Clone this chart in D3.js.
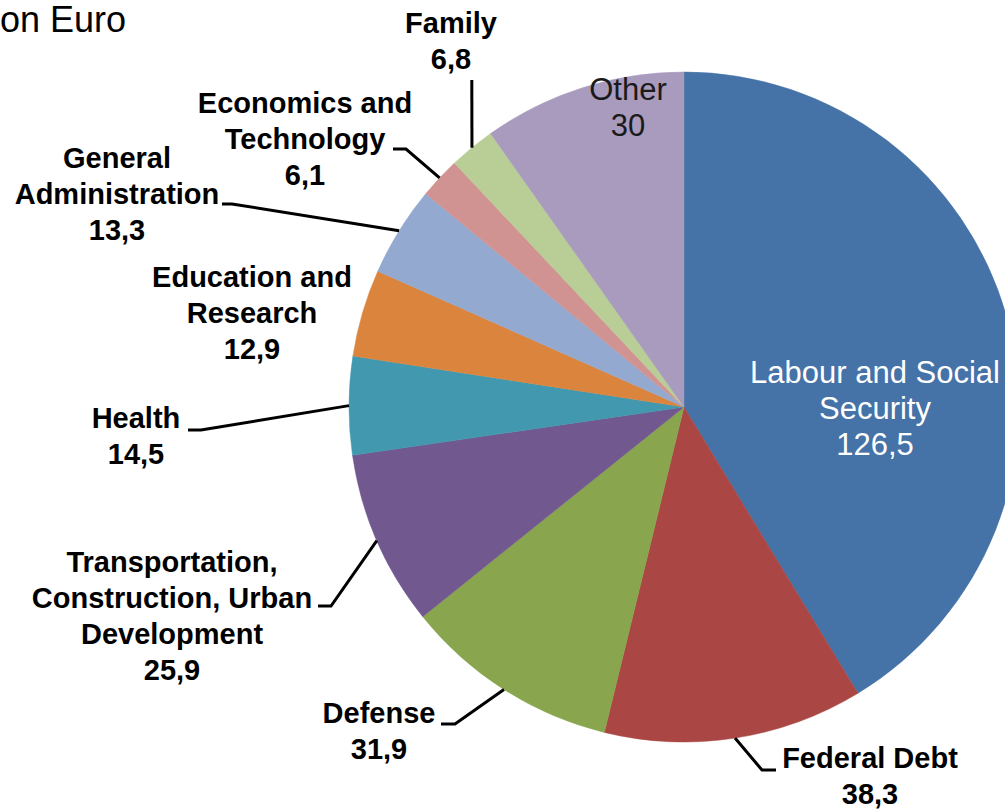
<!DOCTYPE html>
<html>
<head>
<meta charset="utf-8">
<style>
  body { margin: 0; background: #fff; }
  svg { display: block; }
  text { font-family: "Liberation Sans", Arial, sans-serif; }
</style>
</head>
<body>
<div id="chart"></div>
<script src="https://d3js.org/d3.v7.min.js"></script>
<script>
// budget areas, clockwise from 12 o'clock
const categories = ["Labour and Social Security", "Federal Debt", "Defense",
  "Transportation, Construction, Urban Development", "Health", "Education and Research",
  "General Administration", "Economics and Technology", "Family", "Other"];
const values = [126.5, 38.3, 31.9, 25.9, 14.5, 12.9, 13.3, 6.1, 6.8, 30];
const valueLabels = ["126,5", "38,3", "31,9", "25,9", "14,5", "12,9", "13,3", "6,1", "6,8", "30"];
const colors = ["#4572A7", "#AA4643", "#89A54E", "#71588F", "#4198AF",
  "#DB843D", "#93A9CF", "#D19392", "#B9CD96", "#A99BBD"];

// how each label is broken into lines
const labelLines = [
  ["Labour and Social", "Security"],
  ["Federal Debt"],
  ["Defense"],
  ["Transportation,", "Construction, Urban", "Development"],
  ["Health"],
  ["Education and", "Research"],
  ["General", "Administration"],
  ["Economics and", "Technology"],
  ["Family"],
  ["Other"]
];

const width = 1005, height = 809;
const cx = 684, cy = 407, radius = 335;

// label placement: centre x, first baseline, inside or outside, leader elbow
const labelPos = [
  { x: 875, y: 383, inside: true, fill: "#fff" },
  { x: 870, y: 768, lead: [[776, 770], [762, 770]] },
  { x: 379, y: 723, lead: [[441, 724], [455, 724]] },
  { x: 172, y: 572, lead: [[318, 606], [331, 606]] },
  { x: 136, y: 428, lead: [[188, 430], [201, 430]] },
  { x: 252, y: 287 },
  { x: 117, y: 168, lead: [[222, 204], [232, 204]] },
  { x: 305, y: 113, lead: [[393, 149], [406, 149]] },
  { x: 451, y: 33, lead: [[471.8, 80]] },
  { x: 628, y: 100, inside: true, fill: "#1a1a1a" }
];

const data = categories.map((c, i) => ({ name: c, value: values[i], i }));

const svg = d3.select("#chart").append("svg")
  .attr("width", width)
  .attr("height", height);

svg.append("text")
  .attr("x", 0)
  .attr("y", 32)
  .attr("font-size", 36)
  .attr("fill", "#000")
  .text("on Euro");

const pie = d3.pie().sort(null).value(d => d.value);
const arcs = pie(data);
const arc = d3.arc().innerRadius(0).outerRadius(radius);

const g = svg.append("g").attr("transform", `translate(${cx},${cy})`);

g.selectAll("path.slice")
  .data(arcs)
  .enter().append("path")
  .attr("class", "slice")
  .attr("d", arc)
  .attr("fill", d => colors[d.data.i])
  .attr("stroke", d => colors[d.data.i])
  .attr("stroke-width", 0.5);

// leader lines: from label elbow to the arc at mid angle of the slice
const line = d3.line();
arcs.forEach(a => {
  const p = labelPos[a.data.i];
  if (!p.lead) return;
  const mid = (a.startAngle + a.endAngle) / 2;
  const end = [cx + radius * Math.sin(mid), cy - radius * Math.cos(mid)];
  svg.append("path")
    .attr("d", line(p.lead.concat([end])))
    .attr("fill", "none")
    .attr("stroke", "#000")
    .attr("stroke-width", 3);
});

// labels
data.forEach(d => {
  const p = labelPos[d.i];
  const lines = labelLines[d.i].concat([valueLabels[d.i]]);
  const t = svg.append("text")
    .attr("text-anchor", "middle")
    .attr("font-size", p.inside ? 31 : 29)
    .attr("font-weight", p.inside ? "normal" : "bold")
    .attr("fill", p.fill || "#000");
  lines.forEach((s, k) => {
    t.append("tspan")
      .attr("x", p.x)
      .attr("y", p.y + k * 36)
      .text(s);
  });
});
</script>
</body>
</html>
